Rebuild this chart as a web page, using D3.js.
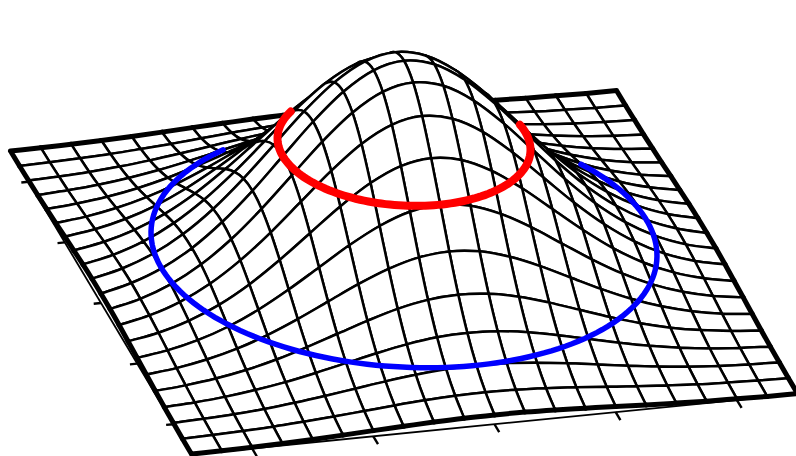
<html>
<head>
<script src="https://cdnjs.cloudflare.com/ajax/libs/d3/7.8.5/d3.min.js"></script>
<style>body { margin: 0; background: white; } svg { display: block; }</style>
</head>
<body></body>
<script>
var screen2 = {width: 796, height: 456};
// grid of the surface, one row per y, one column per x
var xValues = [-2.5,-2.25,-2,-1.75,-1.5,-1.25,-1,-0.75,-0.5,-0.25,0,0.25,0.5,0.75,1,1.25,1.5,1.75,2,2.25,2.5];
var yValues = [-2.5,-2.25,-2,-1.75,-1.5,-1.25,-1,-0.75,-0.5,-0.25,0,0.25,0.5,0.75,1,1.25,1.5,1.75,2,2.25,2.5];
var zGrid = [
[.002,.003,.006,.009,.014,.020,.027,.033,.039,.043,.044,.043,.039,.033,.027,.020,.014,.009,.006,.003,.002],
[.003,.006,.011,.017,.026,.036,.048,.060,.070,.077,.080,.077,.070,.060,.048,.036,.026,.017,.011,.006,.003],
[.006,.011,.018,.029,.044,.062,.082,.102,.119,.131,.135,.131,.119,.102,.082,.062,.044,.029,.018,.011,.006],
[.009,.017,.029,.047,.070,.099,.131,.163,.191,.210,.216,.210,.191,.163,.131,.099,.070,.047,.029,.017,.009],
[.014,.026,.044,.070,.105,.149,.197,.245,.287,.315,.325,.315,.287,.245,.197,.149,.105,.070,.044,.026,.014],
[.020,.036,.062,.099,.149,.210,.278,.346,.404,.444,.458,.444,.404,.346,.278,.210,.149,.099,.062,.036,.020],
[.027,.048,.082,.131,.197,.278,.368,.458,.535,.588,.607,.588,.535,.458,.368,.278,.197,.131,.082,.048,.027],
[.033,.060,.102,.163,.245,.346,.458,.570,.666,.732,.755,.732,.666,.570,.458,.346,.245,.163,.102,.060,.033],
[.039,.070,.119,.191,.287,.404,.535,.666,.779,.855,.882,.855,.779,.666,.535,.404,.287,.191,.119,.070,.039],
[.043,.077,.131,.210,.315,.444,.588,.732,.855,.939,.969,.939,.855,.732,.588,.444,.315,.210,.131,.077,.043],
[.044,.080,.135,.216,.325,.458,.607,.755,.882,.969,1.00,.969,.882,.755,.607,.458,.325,.216,.135,.080,.044],
[.043,.077,.131,.210,.315,.444,.588,.732,.855,.939,.969,.939,.855,.732,.588,.444,.315,.210,.131,.077,.043],
[.039,.070,.119,.191,.287,.404,.535,.666,.779,.855,.882,.855,.779,.666,.535,.404,.287,.191,.119,.070,.039],
[.033,.060,.102,.163,.245,.346,.458,.570,.666,.732,.755,.732,.666,.570,.458,.346,.245,.163,.102,.060,.033],
[.027,.048,.082,.131,.197,.278,.368,.458,.535,.588,.607,.588,.535,.458,.368,.278,.197,.131,.082,.048,.027],
[.020,.036,.062,.099,.149,.210,.278,.346,.404,.444,.458,.444,.404,.346,.278,.210,.149,.099,.062,.036,.020],
[.014,.026,.044,.070,.105,.149,.197,.245,.287,.315,.325,.315,.287,.245,.197,.149,.105,.070,.044,.026,.014],
[.009,.017,.029,.047,.070,.099,.131,.163,.191,.210,.216,.210,.191,.163,.131,.099,.070,.047,.029,.017,.009],
[.006,.011,.018,.029,.044,.062,.082,.102,.119,.131,.135,.131,.119,.102,.082,.062,.044,.029,.018,.011,.006],
[.003,.006,.011,.017,.026,.036,.048,.060,.070,.077,.080,.077,.070,.060,.048,.036,.026,.017,.011,.006,.003],
[.002,.003,.006,.009,.014,.020,.027,.033,.039,.043,.044,.043,.039,.033,.027,.020,.014,.009,.006,.003,.002]
];
var tickValues = [-2, -1, 0, 1, 2];
// the two level rings: radius, height, visible arc in degrees
var ringRadius = [1, 2];
var ringLevel = [0.607, 0.135];
var ringStart = [-7, -29];
var ringEnd = [223, 241];
var ringColor = ["red", "blue"];
var ringWidth = [8, 5.5];

// the projection is parallel, so every screen position is a sum of three scales
var xToScreenX = d3.scaleLinear().domain([-2.5, 2.5]).range([0, 606]);
var xToScreenY = d3.scaleLinear().domain([-2.5, 2.5]).range([0, -60.5]);
var yToScreenX = d3.scaleLinear().domain([-2.5, 2.5]).range([10.5, 191.5]);
var yToScreenY = d3.scaleLinear().domain([-2.5, 2.5]).range([151.5, 454.5]);
var zToScreen = d3.scaleLinear().domain([0, 1]).range([0, -212]);

function project(x, y, z) {
  return [xToScreenX(x) + yToScreenX(y), xToScreenY(x) + yToScreenY(y) + zToScreen(z)];
}

var svg = d3.select("body").append("svg")
  .attr("width", screen2.width)
  .attr("height", screen2.height);

var nx = xValues.length, ny = yValues.length;
var pts = yValues.map(function(y, j) {
  return xValues.map(function(x, i) { return project(x, y, zGrid[j][i]); });
});
function grid(j, i) {
  // past the border, continue straight so the border has a tangent
  if (j < 0) return mirror(grid(0, i), grid(1, i));
  if (j >= ny) return mirror(grid(ny - 1, i), grid(ny - 2, i));
  if (i < 0) return mirror(grid(j, 0), grid(j, 1));
  if (i >= nx) return mirror(grid(j, nx - 1), grid(j, nx - 2));
  return pts[j][i];
}
function mirror(a, b) { return [2 * a[0] - b[0], 2 * a[1] - b[1]]; }

// one cell side as a Catmull-Rom piece so the grid lines bend smoothly
function side(path, a, b, c, d) {
  path.bezierCurveTo(
    b[0] + (c[0] - a[0]) / 6, b[1] + (c[1] - a[1]) / 6,
    c[0] - (d[0] - b[0]) / 6, c[1] - (d[1] - b[1]) / 6,
    c[0], c[1]);
}
function sideX(path, j, i, step) { side(path, grid(j, i - step), grid(j, i), grid(j, i + step), grid(j, i + 2 * step)); }
function sideY(path, j, i, step) { side(path, grid(j - step, i), grid(j, i), grid(j + step, i), grid(j + 2 * step, i)); }

// axes at z = 0, under the surface
var axes = svg.append("g").attr("stroke", "black").attr("fill", "none");
function axisLine(a, b, w) {
  axes.append("line")
    .attr("x1", a[0]).attr("y1", a[1]).attr("x2", b[0]).attr("y2", b[1])
    .attr("stroke-width", w);
}
axisLine(project(-2.5, -2.5, 0), project(-2.5, 2.5, 0), 1.8);
axisLine(project(-2.5, 2.5, 0), project(2.5, 2.5, 0), 1.8);
tickValues.forEach(function(t) {
  axisLine(project(-2.5, t, 0), project(-2.56, t, 0), 2.4);
  axisLine(project(t, 2.5, 0), project(t, 2.63, 0), 2.4);
});

// cells far to near, so nearer cells hide the ones behind
var surface = svg.append("g").attr("stroke", "black").attr("stroke-linejoin", "round").attr("stroke-linecap", "round");
for (var j = 0; j < ny - 1; j++) {
  for (var i = nx - 2; i >= 0; i--) {
    var p = d3.path();
    p.moveTo(pts[j][i][0], pts[j][i][1]);
    sideX(p, j, i, 1);
    sideY(p, j, i + 1, 1);
    side(p, grid(j + 1, i + 2), grid(j + 1, i + 1), grid(j + 1, i), grid(j + 1, i - 1));
    side(p, grid(j + 2, i), grid(j + 1, i), grid(j, i), grid(j - 1, i));
    p.closePath();
    surface.append("path").attr("d", p.toString()).attr("fill", "white").attr("stroke-width", 2.5);

    // thick outline on the border sides of the surface
    var edge = d3.path(), thick = false;
    if (j === 0) { edge.moveTo(pts[j][i][0], pts[j][i][1]); sideX(edge, j, i, 1); thick = true; }
    if (i === nx - 2) { edge.moveTo(pts[j][i + 1][0], pts[j][i + 1][1]); sideY(edge, j, i + 1, 1); thick = true; }
    if (j === ny - 2) { edge.moveTo(pts[j + 1][i][0], pts[j + 1][i][1]); sideX(edge, j + 1, i, 1); thick = true; }
    if (i === 0) { edge.moveTo(pts[j][i][0], pts[j][i][1]); sideY(edge, j, i, 1); thick = true; }
    if (thick) surface.append("path").attr("d", edge.toString()).attr("fill", "none").attr("stroke-width", 5);
  }
}

// level rings on top
var ringLine = d3.line().curve(d3.curveLinear);
ringRadius.forEach(function(r, k) {
  var arc = d3.range(ringStart[k], ringEnd[k] + 1, 2).map(function(deg) {
    var a = deg * Math.PI / 180;
    return project(r * Math.cos(a), r * Math.sin(a), ringLevel[k]);
  });
  svg.append("path")
    .attr("d", ringLine(arc))
    .attr("fill", "none")
    .attr("stroke", ringColor[k])
    .attr("stroke-width", ringWidth[k])
    .attr("stroke-linecap", "round");
});
</script>
</html>
